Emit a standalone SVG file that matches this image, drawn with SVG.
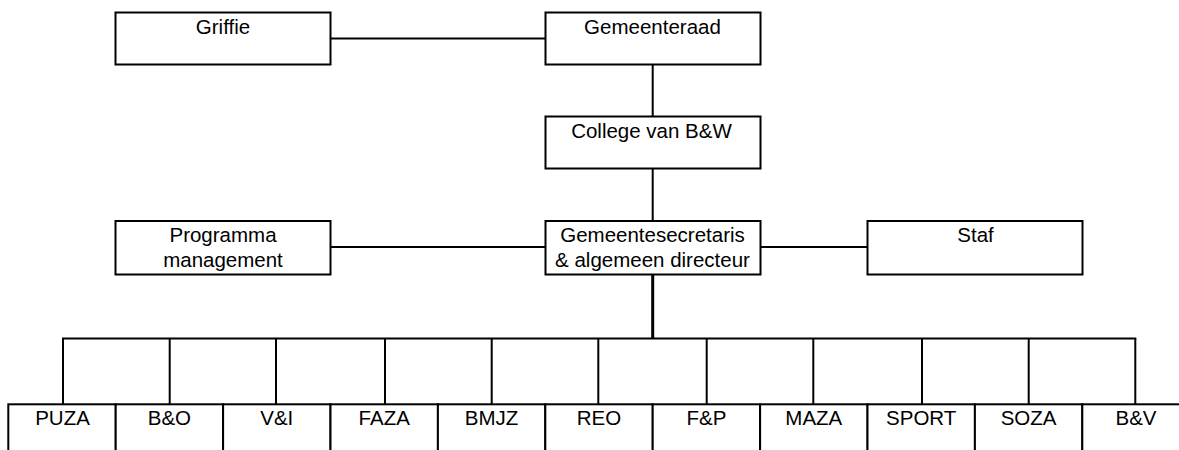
<svg xmlns="http://www.w3.org/2000/svg" width="1179" height="450" viewBox="0 0 1179 450">
<style>
.box{fill:#fff;stroke:#000;stroke-width:2}
.ln{stroke:#000;stroke-width:2;fill:none}
.thick{stroke:#000;stroke-width:3;fill:none}
text{font-family:"Liberation Sans",Arial,sans-serif;font-size:20.5px;fill:#000;text-anchor:middle}
</style>
<rect width="1179" height="450" fill="#fff"/>
<g id="connectors">
<line class="ln" x1="330.5" y1="38.5" x2="545.5" y2="38.5"/>
<line class="ln" x1="652.7" y1="64.5" x2="652.7" y2="116.5"/>
<line class="ln" x1="652.7" y1="168.5" x2="652.7" y2="221"/>
<line class="ln" x1="330.5" y1="247" x2="545.5" y2="247"/>
<line class="ln" x1="760.5" y1="247" x2="867.5" y2="247"/>
<line class="thick" x1="652.7" y1="274.5" x2="652.7" y2="338.5"/>
<line class="ln" x1="62" y1="338.5" x2="1136.3" y2="338.5"/>
<line class="ln" x1="63" y1="338.5" x2="63" y2="404.3"/>
<line class="ln" x1="169.7" y1="338.5" x2="169.7" y2="404.3"/>
<line class="ln" x1="276" y1="338.5" x2="276" y2="404.3"/>
<line class="ln" x1="385" y1="338.5" x2="385" y2="404.3"/>
<line class="ln" x1="491.7" y1="338.5" x2="491.7" y2="404.3"/>
<line class="ln" x1="598.3" y1="338.5" x2="598.3" y2="404.3"/>
<line class="ln" x1="706.7" y1="338.5" x2="706.7" y2="404.3"/>
<line class="ln" x1="813.3" y1="338.5" x2="813.3" y2="404.3"/>
<line class="ln" x1="922" y1="338.5" x2="922" y2="404.3"/>
<line class="ln" x1="1028.7" y1="338.5" x2="1028.7" y2="404.3"/>
<line class="ln" x1="1135.3" y1="338.5" x2="1135.3" y2="404.3"/>
</g>
<g id="griffie"><rect class="box" x="115.5" y="12.5" width="215" height="52"/><text x="223" y="33.5">Griffie</text></g>
<g id="gemeenteraad"><rect class="box" x="545.5" y="12.5" width="215" height="52"/><text x="652.5" y="33.5">Gemeenteraad</text></g>
<g id="college"><rect class="box" x="545.5" y="116.5" width="215" height="52"/><text x="651.5" y="137.5">College van B&amp;W</text></g>
<g id="programma"><rect class="box" x="115.5" y="221" width="215" height="53.5"/><text x="223" y="242.3">Programma</text><text x="223" y="266.7">management</text></g>
<g id="gemeentesecretaris"><rect class="box" x="545.5" y="221" width="215" height="53.5"/><text x="652.5" y="242.3">Gemeentesecretaris</text><text x="652.5" y="266.7">&amp; algemeen directeur</text></g>
<g id="staf"><rect class="box" x="867.5" y="221" width="215" height="53.5"/><text x="975.5" y="242.3">Staf</text></g>
<g id="puza"><rect class="box" x="8.3" y="404.3" width="107.4" height="60"/><text x="62.5" y="425">PUZA</text></g>
<g id="beno"><rect class="box" x="115.7" y="404.3" width="107.4" height="60"/><text x="169.4" y="425">B&amp;O</text></g>
<g id="veni"><rect class="box" x="223.1" y="404.3" width="107.4" height="60"/><text x="276.8" y="425">V&amp;I</text></g>
<g id="faza"><rect class="box" x="330.5" y="404.3" width="107.4" height="60"/><text x="384.2" y="425">FAZA</text></g>
<g id="bmjz"><rect class="box" x="437.9" y="404.3" width="107.4" height="60"/><text x="491.6" y="425">BMJZ</text></g>
<g id="reo"><rect class="box" x="545.3" y="404.3" width="107.4" height="60"/><text x="599" y="425">REO</text></g>
<g id="fenp"><rect class="box" x="652.7" y="404.3" width="107.4" height="60"/><text x="706.4" y="425">F&amp;P</text></g>
<g id="maza"><rect class="box" x="760.1" y="404.3" width="107.4" height="60"/><text x="813.8" y="425">MAZA</text></g>
<g id="sport"><rect class="box" x="867.5" y="404.3" width="107.4" height="60"/><text x="921.2" y="425">SPORT</text></g>
<g id="soza"><rect class="box" x="974.9" y="404.3" width="107.4" height="60"/><text x="1028.6" y="425">SOZA</text></g>
<g id="benv"><rect class="box" x="1082.3" y="404.3" width="107.4" height="60"/><text x="1136" y="425">B&amp;V</text></g>
</svg>
